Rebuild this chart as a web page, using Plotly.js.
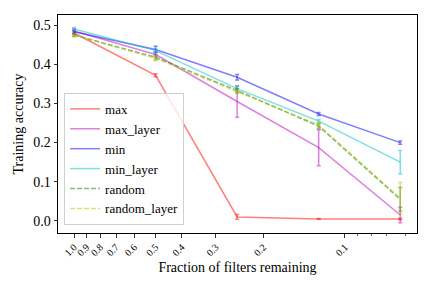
<!DOCTYPE html>
<html>
<head>
<meta charset="utf-8">
<script src="https://cdn.plot.ly/plotly-3.0.1.min.js"></script>
<style>html,body{margin:0;padding:0;background:#fff;}#chart{width:432px;height:288px;}</style>
</head>
<body>
<div id="chart"></div>
<script>
// Data
var fractions = [1, 0.5, 0.25, 0.125, 0.0625];
var seriesNames = ["max", "max_layer", "min", "min_layer", "random", "random_layer"];
var maxVals = [0.480, 0.372, 0.010, 0.005, 0.005];
var maxErr = [0.004, 0.004, 0.006, 0.001, 0.002];
var maxLayerVals = [0.485, 0.425, 0.305, 0.187, 0.015];
var maxLayerErr = [0.006, 0.006, 0.040, 0.046, 0.020];
var minVals = [0.483, 0.438, 0.367, 0.273, 0.200];
var minErr = [0.004, 0.008, 0.007, 0.004, 0.004];
var minLayerVals = [0.490, 0.435, 0.338, 0.255, 0.150];
var minLayerErr = [0.004, 0.004, 0.006, 0.004, 0.030];
var randomVals = [0.475, 0.418, 0.333, 0.242, 0.055];
var randomErr = [0.004, 0.006, 0.005, 0.006, 0.030];
var randomLayerVals = [0.475, 0.415, 0.330, 0.245, 0.058];
var randomLayerErr = [0.004, 0.006, 0.005, 0.005, 0.040];
var xTickVals = [1.0, 0.9, 0.8, 0.7, 0.6, 0.5, 0.4, 0.3, 0.2, 0.1];
var xTickText = ["1.0", "0.9", "0.8", "0.7", "0.6", "0.5", "0.4", "0.3", "0.2", "0.1"];
var xMinorVals = [0.09, 0.08, 0.07, 0.06];
var yTickVals = [0.0, 0.1, 0.2, 0.3, 0.4, 0.5];
var yTickText = ["0.0", "0.1", "0.2", "0.3", "0.4", "0.5"];

var allVals = [maxVals, maxLayerVals, minVals, minLayerVals, randomVals, randomLayerVals];
var allErr = [maxErr, maxLayerErr, minErr, minLayerErr, randomErr, randomLayerErr];
var colors = ["rgba(255,0,0,0.5)", "rgba(191,0,191,0.5)", "rgba(0,0,255,0.5)",
              "rgba(0,191,191,0.5)", "rgba(0,128,0,0.5)", "rgba(191,191,0,0.5)"];
var dashes = ["solid", "solid", "solid", "solid", "5px,2px", "5px,2px"];

var traces = seriesNames.map(function (name, i) {
  return {
    x: fractions,
    y: allVals[i],
    name: name,
    type: "scatter",
    mode: "lines",
    line: {color: colors[i], width: 1.5, dash: dashes[i]},
    error_y: {type: "data", array: allErr[i], visible: true, color: colors[i], thickness: 1.5, width: 2}
  };
});

var serif = "Liberation Serif";

var layout = {
  width: 432, height: 288,
  margin: {l: 58, r: 15, t: 15, b: 55},
  paper_bgcolor: "#fff", plot_bgcolor: "#fff",
  font: {family: serif, size: 12, color: "#000"},
  showlegend: true,
  legend: {
    x: 0.017, y: 0.037, xanchor: "left", yanchor: "bottom",
    bgcolor: "rgba(255,255,255,0.8)", bordercolor: "#d0d0d0", borderwidth: 1,
    font: {family: serif, size: 13, color: "#000"},
    tracegroupgap: 0, itemwidth: 30
  },
  xaxis: {
    type: "log",
    range: [Math.log10(1.146), Math.log10(0.0542)],
    tickmode: "array", tickvals: xTickVals, ticktext: xTickText,
    tickangle: -45,
    tickfont: {family: serif, size: 10, color: "#000"},
    ticks: "outside", ticklen: 3.5, tickwidth: 0.8, tickcolor: "#000",
    minor: {tickmode: "array", tickvals: xMinorVals, ticks: "outside", ticklen: 2, tickwidth: 0.6, tickcolor: "#000"},
    showgrid: false, zeroline: false,
    showline: true, linecolor: "#000", linewidth: 1, mirror: true,
    title: {text: "Fraction of filters remaining", font: {family: serif, size: 14, color: "#000"}, standoff: 4}
  },
  yaxis: {
    range: [-0.031, 0.526],
    tickmode: "array", tickvals: yTickVals, ticktext: yTickText,
    tickfont: {family: serif, size: 14, color: "#000"},
    ticks: "outside", ticklen: 3.5, tickwidth: 0.8, tickcolor: "#000",
    showgrid: false, zeroline: false,
    showline: true, linecolor: "#000", linewidth: 1, mirror: true,
    title: {text: "Training accuracy", font: {family: serif, size: 14, color: "#000"}, standoff: 6}
  }
};

Plotly.newPlot("chart", traces, layout, {staticPlot: true, displayModeBar: false});
</script>
</body>
</html>
